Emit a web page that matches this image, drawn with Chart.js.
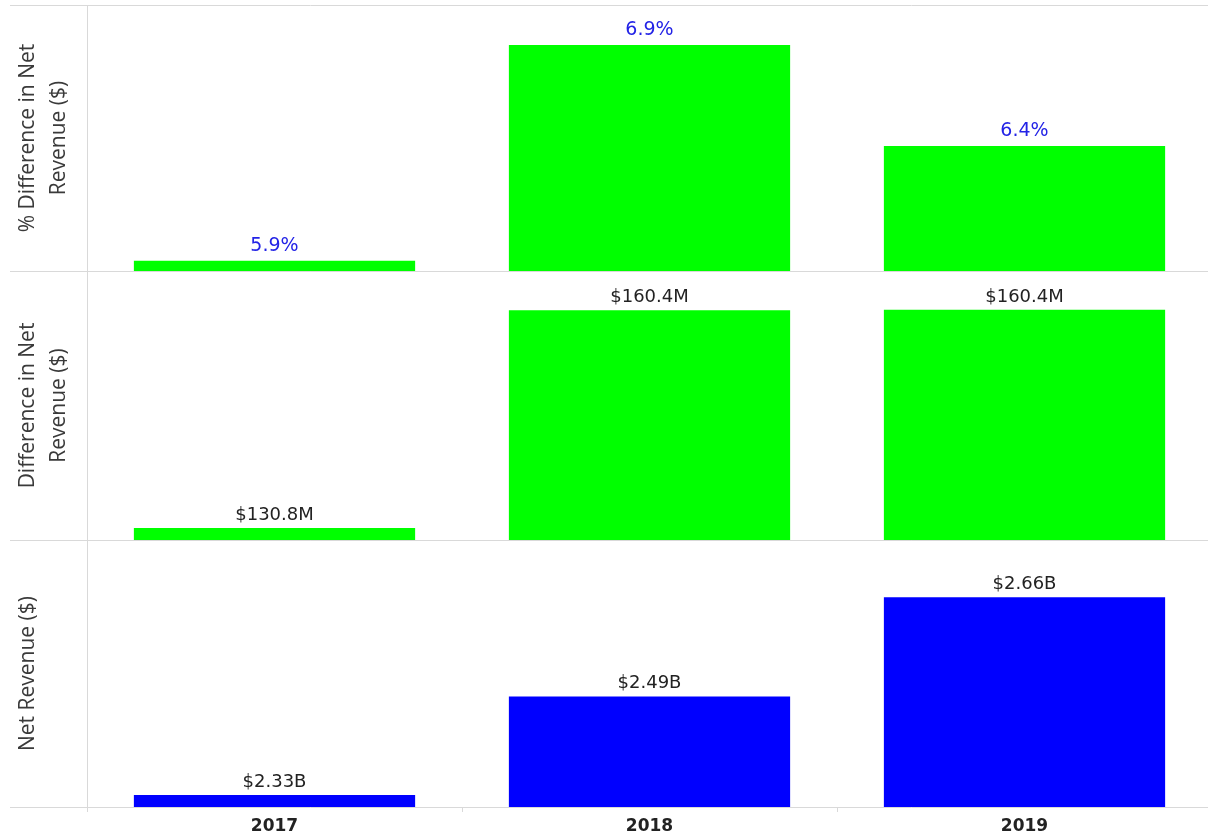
<!DOCTYPE html>
<html>
<head>
<meta charset="utf-8">
<title>Net Revenue by Year</title>
<script src="https://cdn.jsdelivr.net/npm/chart.js@4.4.1/dist/chart.umd.min.js"></script>
<style>
  html, body { margin: 0; padding: 0; background: #fff; overflow: hidden; }
  .panel { position: absolute; left: 0; width: 1212px; }
  #p1 { top: 0; height: 276px; }
  #p2 { top: 266px; height: 279px; }
  #p3 { top: 535px; height: 304px; }
</style>
</head>
<body>
<div class="panel" id="p1"><canvas id="pctChart"></canvas></div>
<div class="panel" id="p2"><canvas id="diffChart"></canvas></div>
<div class="panel" id="p3"><canvas id="netChart"></canvas></div>

<script>
const years = ['2017', '2018', '2019'];
const pctDiff = [5.94, 6.88, 6.44];            // % change in net revenue
const diffRevenueM = [130.8, 160.38, 160.45];  // change in net revenue, $M
const netRevenueB = [2.333, 2.494, 2.656];     // net revenue, $B

// value window shown by each panel's hidden axis
const pctRange = [5.895, 7.054];
const diffRange = [129.17, 165.7];
const netRange = [2.3134, 2.7497];

const LINE = '#d9d9d9';

function makePanel(canvasId, cfg) {
  // frame lines: top/bottom rules run into the label column, plus the divider at the axis
  const frame = {
    id: 'frame',
    beforeDraw(chart) {
      const { ctx, chartArea: a } = chart;
      ctx.save();
      ctx.strokeStyle = LINE;
      ctx.lineWidth = 1;
      ctx.beginPath();
      const top = Math.round(a.top) + 0.5;
      ctx.moveTo(10, top);
      ctx.lineTo(chart.width, top);
      const bottom = Math.round(a.bottom) + 0.5;
      ctx.moveTo(10, bottom);
      ctx.lineTo(chart.width, bottom);
      const left = Math.round(a.left) + 0.5;
      ctx.moveTo(left, a.top);
      ctx.lineTo(left, a.bottom);
      ctx.stroke();
      ctx.restore();
    }
  };

  // value labels above each bar
  const labels = {
    id: 'labels',
    afterDatasetsDraw(chart) {
      const { ctx } = chart;
      const meta = chart.getDatasetMeta(0);
      const values = chart.data.datasets[0].data;
      ctx.save();
      ctx.font = cfg.labelFont;
      ctx.fillStyle = cfg.labelColor;
      ctx.textAlign = 'center';
      ctx.textBaseline = 'alphabetic';
      meta.data.forEach((bar, i) => {
        ctx.fillText(cfg.format(values[i]), bar.x, bar.y - cfg.labelGap);
      });
      ctx.restore();
    }
  };

  const showYears = !!cfg.showYears;

  return new Chart(document.getElementById(canvasId), {
    type: 'bar',
    data: {
      labels: years,
      datasets: [{
        data: cfg.values,
        backgroundColor: cfg.color,
        borderWidth: 0,
        categoryPercentage: 1,
        barPercentage: 0.75
      }]
    },
    options: {
      responsive: true,
      maintainAspectRatio: false,
      animation: false,
      layout: { padding: { top: 5, bottom: showYears ? 0 : 5, left: 0, right: 0 } },
      plugins: { legend: { display: false }, tooltip: { enabled: false } },
      scales: {
        x: {
          display: showYears,
          offset: true,
          grid: { drawOnChartArea: false, tickLength: 5, color: LINE, offset: true },
          border: { display: false },
          ticks: {
            font: { family: 'DejaVu Sans', size: 17, weight: 'bold' },
            color: '#222',
            padding: 4
          },
          afterFit(s) { s.height = showYears ? 32 : 0; }
        },
        y: {
          min: cfg.range[0],
          max: cfg.range[1],
          ticks: { display: false },
          grid: { display: false },
          border: { display: false },
          title: {
            display: true,
            text: cfg.title,
            font: { family: 'Open Sans', size: 21, lineHeight: 1.45 },
            color: '#3a3a3a',
            padding: { top: 13, bottom: 0 }
          },
          afterFit(s) { s.width = 87; }
        }
      }
    },
    plugins: [frame, labels]
  });
}

makePanel('pctChart', {
  values: pctDiff,
  range: pctRange,
  color: '#00ff00',
  title: ['% Difference in Net', 'Revenue ($)'],
  format: v => v.toFixed(1) + '%',
  labelFont: '19px "DejaVu Sans"',
  labelColor: '#2323e6',
  labelGap: 10
});

makePanel('diffChart', {
  values: diffRevenueM,
  range: diffRange,
  color: '#00ff00',
  title: ['Difference in Net', 'Revenue ($)'],
  format: v => '$' + v.toFixed(1) + 'M',
  labelFont: '18px "DejaVu Sans"',
  labelColor: '#222',
  labelGap: 8
});

makePanel('netChart', {
  values: netRevenueB,
  range: netRange,
  color: '#0000ff',
  title: 'Net Revenue ($)',
  format: v => '$' + v.toFixed(2) + 'B',
  labelFont: '18px "DejaVu Sans"',
  labelColor: '#222',
  labelGap: 8,
  showYears: true
});
</script>
</body>
</html>
